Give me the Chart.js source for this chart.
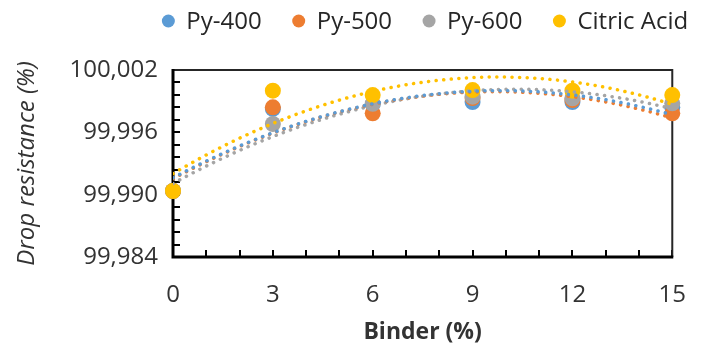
<!DOCTYPE html>
<html>
<head>
<meta charset="utf-8">
<script src="https://cdn.jsdelivr.net/npm/chart.js@4.4.0/dist/chart.umd.min.js"></script>
<style>
    html, body { margin: 0; padding: 0; background: #fff; }
    #wrap { width: 710px; height: 354px; }
</style>
</head>
<body>
<div id="wrap"><canvas id="dropChart" width="710" height="354"></canvas></div>
<script>
// Binder content (%) on x, drop resistance (%) on y
const binder = [0, 3, 6, 9, 12, 15];
const py400 = [99.99035, 99.99825, 99.99870, 99.99892, 99.99892, 99.99841];
const py500 = [99.99035, 99.99841, 99.99783, 99.99930, 99.99911, 99.99783];
const py600 = [99.99035, 99.99680, 99.99875, 99.99943, 99.99928, 99.99879];
const citricAcid = [99.99035, 100.00001, 99.99959, 100.00007, 100.00001, 99.99959];

const seriesNames = ['Py-400', 'Py-500', 'Py-600', 'Citric Acid'];
const seriesColors = ['#5B9BD5', '#ED7D31', '#A5A5A5', '#FFC000'];

const xTicks = [0, 3, 6, 9, 12, 15];
const yTicks = [99.984, 99.990, 99.996, 100.002];

(function () {
    const FONT = "'Open Sans', 'Noto Sans', sans-serif";
    const allSeries = [py400, py500, py600, citricAcid];

    // Least-squares 2nd order polynomial, like the spreadsheet trendline
    function polyFit2(xs, ys) {
        const my = ys.reduce((a, b) => a + b, 0) / ys.length;
        let s = [0, 0, 0, 0, 0];
        let t = [0, 0, 0];
        xs.forEach((x, i) => {
            const y = ys[i] - my;
            for (let k = 0; k <= 4; k++) s[k] += Math.pow(x, k);
            for (let k = 0; k <= 2; k++) t[k] += Math.pow(x, k) * y;
        });
        const m = [
            [s[0], s[1], s[2], t[0]],
            [s[1], s[2], s[3], t[1]],
            [s[2], s[3], s[4], t[2]],
        ];
        for (let c = 0; c < 3; c++) {
            for (let r = c + 1; r < 3; r++) {
                const f = m[r][c] / m[c][c];
                for (let k = c; k < 4; k++) m[r][k] -= f * m[c][k];
            }
        }
        const coef = [0, 0, 0];
        for (let r = 2; r >= 0; r--) {
            let v = m[r][3];
            for (let k = r + 1; k < 3; k++) v -= m[r][k] * coef[k];
            coef[r] = v / m[r][r];
        }
        return (x) => my + coef[0] + coef[1] * x + coef[2] * x * x;
    }

    function trendPoints(ys) {
        const f = polyFit2(binder, ys);
        const pts = [];
        const x0 = binder[0];
        const x1 = binder[binder.length - 1];
        for (let x = x0; x <= x1 + 1e-9; x += 0.25) pts.push({ x, y: f(x) });
        return pts;
    }

    const datasets = [];
    allSeries.forEach((ys, i) => {
        datasets.push({
            type: 'line',
            label: seriesNames[i] + ' trend',
            data: trendPoints(ys),
            borderColor: seriesColors[i],
            borderWidth: 3.5,
            borderDash: [0.1, 7.5],
            borderCapStyle: 'round',
            pointRadius: 0,
            fill: false,
            tension: 0,
            order: 0,
        });
    });
    allSeries.forEach((ys, i) => {
        datasets.push({
            type: 'scatter',
            label: seriesNames[i],
            data: binder.map((x, j) => ({ x, y: ys[j] })),
            backgroundColor: seriesColors[i],
            borderColor: seriesColors[i],
            borderWidth: 0,
            pointRadius: 8,
            pointHoverRadius: 8,
            clip: false,
            order: 4 - i,
        });
    });

    // Frame, inward major/minor tick marks and legend
    const decorPlugin = {
        id: 'decor',
        beforeDatasetsDraw(chart) {
            const { ctx, chartArea: a } = chart;
            const xs = chart.scales.x;
            const ys = chart.scales.y;
            ctx.save();
            ctx.lineCap = 'butt';
            ctx.strokeStyle = '#000';
            ctx.lineWidth = 2;
            for (let v = xs.min; v <= xs.max + 1e-9; v += 1) {
                const px = Math.round(xs.getPixelForValue(v));
                ctx.beginPath();
                ctx.moveTo(px, a.bottom);
                ctx.lineTo(px, a.bottom - 7);
                ctx.stroke();
            }
            const yStep = (yTicks[1] - yTicks[0]) / 5;
            const nY = Math.round((ys.max - ys.min) / yStep);
            for (let i = 0; i <= nY; i++) {
                const py = Math.round(ys.getPixelForValue(ys.min + i * yStep));
                ctx.beginPath();
                ctx.moveTo(a.left, py);
                ctx.lineTo(a.left + 7, py);
                ctx.stroke();
            }
            ctx.strokeStyle = '#262626';
            ctx.lineWidth = 2;
            ctx.beginPath();
            ctx.moveTo(a.left, a.top);
            ctx.lineTo(a.right, a.top);
            ctx.lineTo(a.right, a.bottom);
            ctx.stroke();
            ctx.strokeStyle = '#000';
            ctx.lineWidth = 3;
            ctx.beginPath();
            ctx.moveTo(a.left, a.top - 1);
            ctx.lineTo(a.left, a.bottom);
            ctx.lineTo(a.right + 1, a.bottom);
            ctx.stroke();
            ctx.restore();
        },
        afterDraw(chart) {
            const ctx = chart.ctx;
            ctx.save();
            ctx.font = '24px ' + FONT;
            ctx.textBaseline = 'middle';
            const widths = seriesNames.map((n) => ctx.measureText(n).width);
            const total = widths.reduce((s, w) => s + 6.5 + 18 + w, 0) + 37 * 3 - 6.5 * 3;
            let x = 425 - total / 2;
            const y = 21;
            seriesNames.forEach((name, i) => {
                const cx = x + 6.5;
                ctx.fillStyle = seriesColors[i];
                ctx.beginPath();
                ctx.arc(cx, y, 6.5, 0, Math.PI * 2);
                ctx.fill();
                ctx.fillStyle = '#262626';
                ctx.fillText(name, cx + 18, y + 1);
                x = cx + 18 + widths[i] + 37 - 6.5;
            });
            ctx.restore();
        },
    };

    new Chart(document.getElementById('dropChart').getContext('2d'), {
        type: 'scatter',
        data: { datasets },
        options: {
            responsive: false,
            animation: false,
            layout: { padding: { top: 70, right: 17, left: 0, bottom: 0 } },
            plugins: {
                legend: { display: false },
                tooltip: { enabled: false },
            },
            scales: {
                x: {
                    type: 'linear',
                    min: 0,
                    max: 15,
                    afterBuildTicks: (s) => { s.ticks = xTicks.map((v) => ({ value: v })); },
                    afterFit: (s) => { s.height = 97; },
                    grid: { display: false, drawTicks: false },
                    border: { display: false },
                    ticks: {
                        padding: 24,
                        color: '#333',
                        font: { family: FONT, size: 24 },
                        maxRotation: 0,
                    },
                    title: {
                        display: true,
                        text: 'Binder (%)',
                        color: '#333',
                        font: { family: FONT, size: 23, weight: 'bold' },
                        padding: { top: 0, bottom: 8 },
                    },
                },
                y: {
                    type: 'linear',
                    min: yTicks[0],
                    max: yTicks[yTicks.length - 1],
                    afterBuildTicks: (s) => { s.ticks = yTicks.map((v) => ({ value: v })); },
                    afterFit: (s) => { s.width = 173; },
                    grid: { display: false, drawTicks: false },
                    border: { display: false },
                    ticks: {
                        padding: 15,
                        color: '#333',
                        font: { family: FONT, size: 24 },
                        callback: (v) => Number(v).toFixed(3).replace('.', ','),
                    },
                    title: {
                        display: true,
                        text: 'Drop resistance (%)',
                        color: '#333',
                        font: { family: FONT, size: 24, style: 'italic' },
                        padding: { top: 13, bottom: 0 },
                    },
                },
            },
        },
        plugins: [decorPlugin],
    });
})();
</script>
</body>
</html>
